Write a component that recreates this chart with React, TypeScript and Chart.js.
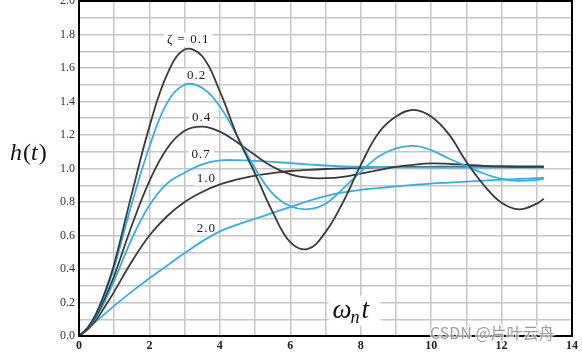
import React, { useEffect, useRef } from 'react';
import { Chart, registerables } from 'chart.js';

Chart.register(...registerables);

// time axis (ωn·t)
const T = [0, 0.25, 0.5, 0.75, 1, 1.5, 2, 2.5, 3, 3.5, 4, 4.5, 5, 5.5, 6, 6.5, 7, 7.5, 8, 8.5, 9, 9.5, 10, 10.5, 11, 11.5, 12, 12.5, 13, 13.2];

// step responses
const Z01 = [0, 0.05, 0.14, 0.27, 0.43, 0.85, 1.25, 1.56, 1.71, 1.67, 1.46, 1.19, 0.97, 0.74, 0.56, 0.52, 0.62, 0.80, 1.02, 1.21, 1.31, 1.35, 1.31, 1.205, 1.04, 0.90, 0.795, 0.756, 0.79, 0.82];
const Z02 = [0, 0.05, 0.135, 0.26, 0.41, 0.79, 1.13, 1.39, 1.50, 1.48, 1.37, 1.19, 1.0, 0.85, 0.775, 0.757, 0.79, 0.88, 0.98, 1.07, 1.12, 1.135, 1.11, 1.06, 1.015, 0.97, 0.938, 0.926, 0.932, 0.94];
const Z04 = [0, 0.045, 0.125, 0.235, 0.36, 0.66, 0.925, 1.12, 1.225, 1.25, 1.22, 1.155, 1.08, 1.01, 0.965, 0.945, 0.942, 0.95, 0.97, 0.99, 1.01, 1.022, 1.03, 1.028, 1.022, 1.016, 1.012, 1.01, 1.01, 1.01];
const Z07 = [0, 0.045, 0.115, 0.215, 0.33, 0.58, 0.78, 0.91, 0.975, 1.025, 1.048, 1.05, 1.046, 1.04, 1.032, 1.025, 1.018, 1.013, 1.01, 1.008, 1.007, 1.007, 1.006, 1.006, 1.006, 1.006, 1.006, 1.005, 1.005, 1.005];
const Z10 = [0, 0.04, 0.10, 0.18, 0.265, 0.445, 0.60, 0.715, 0.80, 0.86, 0.905, 0.935, 0.958, 0.973, 0.985, 0.992, 0.997, 1.0, 1.004, 1.007, 1.009, 1.01, 1.01, 1.011, 1.011, 1.012, 1.012, 1.012, 1.012, 1.012];
const Z20 = [0, 0.045, 0.09, 0.135, 0.18, 0.265, 0.345, 0.42, 0.495, 0.565, 0.625, 0.665, 0.70, 0.735, 0.77, 0.805, 0.835, 0.857, 0.873, 0.883, 0.893, 0.902, 0.91, 0.916, 0.922, 0.928, 0.933, 0.938, 0.942, 0.944];

const SERIES = [Z01, Z02, Z04, Z07, Z10, Z20];
const SERIES_COLORS = ['#3a3a3a', '#33aee6', '#3a3a3a', '#33aee6', '#3a3a3a', '#33aee6'];

// curve annotations (text + data-coordinate anchor)
const CURVE_LABELS = ['ζ = 0.1', '0.2', '0.4', '0.7', '1.0', '2.0'];
const CURVE_LABEL_X = [3.1, 3.34, 3.48, 3.47, 3.62, 3.62];
const CURVE_LABEL_Y = [1.77, 1.555, 1.305, 1.084, 0.94, 0.642];

// axis ticks
const X_MIN = 0, X_MAX = 14, X_STEP = 1, X_LABEL_EVERY = 2;
const Y_MIN = 0, Y_MAX = 2, Y_STEP = 0.1, Y_LABEL_EVERY = 0.2;

const WATERMARK = 'CSDN @片叶云舟';

const SERIF = '"Liberation Serif", "DejaVu Serif", serif';

const annotPlugin = {
  id: 'annot',
  beforeDatasetsDraw(chart: any) {
    const { ctx, scales } = chart;
    const x = scales.x, y = scales.y;
    ctx.save();
    ctx.font = `13px ${SERIF}`;
    (ctx as any).letterSpacing = '1px';
    ctx.textAlign = 'center';
    ctx.textBaseline = 'middle';
    CURVE_LABELS.forEach((s, i) => {
      const px = x.getPixelForValue(CURVE_LABEL_X[i]);
      const py = y.getPixelForValue(CURVE_LABEL_Y[i]);
      const w = ctx.measureText(s).width;
      ctx.fillStyle = '#ffffff';
      ctx.fillRect(px - w / 2 - 3, py - 7, w + 6, 14);
      ctx.fillStyle = '#1a1a1a';
      ctx.fillText(s, px, py);
    });
    (ctx as any).letterSpacing = '0px';
    // ωn t label with white box
    const ox = x.getPixelForValue(7.2);
    const oy = y.getPixelForValue(0.11);
    ctx.fillStyle = '#ffffff';
    ctx.fillRect(ox - 4, oy - 22, 52, 30);
    ctx.fillStyle = '#111111';
    ctx.textAlign = 'left';
    ctx.textBaseline = 'alphabetic';
    ctx.font = `italic 27px ${SERIF}`;
    ctx.fillText('ω', ox, oy);
    const w1 = ctx.measureText('ω').width;
    ctx.font = `italic 18px ${SERIF}`;
    ctx.fillText('n', ox + w1 - 1, oy + 5);
    const w2 = ctx.measureText('n').width;
    ctx.font = `italic 27px ${SERIF}`;
    ctx.fillText('t', ox + w1 + w2 + 1, oy);
    ctx.restore();
  },
  afterDraw(chart: any) {
    const { ctx, chartArea: ca, scales } = chart;
    const y = scales.y;
    ctx.save();
    ctx.strokeStyle = '#000';
    ctx.lineWidth = 2;
    ctx.strokeRect(ca.left, ca.top, ca.right - ca.left, ca.bottom - ca.top);

    // h(t) axis title
    const hy = y.getPixelForValue(1.0) - 9;
    ctx.fillStyle = '#111111';
    ctx.textBaseline = 'alphabetic';
    ctx.textAlign = 'left';
    let cx = 10;
    const parts: [string, boolean][] = [['h', true], ['(', false], ['t', true], [')', false]];
    parts.forEach(([s, it]) => {
      ctx.font = `${it ? 'italic ' : ''}24px ${SERIF}`;
      ctx.fillText(s, cx, hy);
      cx += ctx.measureText(s).width + (it ? 1 : 0);
    });

    // watermark
    ctx.font = '16px "Noto Sans CJK SC", "Noto Sans", sans-serif';
    ctx.textBaseline = 'middle';
    ctx.textAlign = 'left';
    ctx.lineWidth = 3;
    ctx.strokeStyle = 'rgba(255,255,255,0.7)';
    ctx.strokeText(WATERMARK, 430, 333);
    ctx.fillStyle = 'rgba(140,140,140,0.85)';
    ctx.fillText(WATERMARK, 430, 333);
    ctx.restore();
  },
};

export default function App() {
  const ref = useRef<HTMLCanvasElement>(null);
  useEffect(() => {
    document.body.style.margin = '0';
    const canvas = ref.current;
    if (!canvas) return;
    const chart = new Chart(canvas, {
      type: 'line',
      data: {
        datasets: SERIES.map((arr, i) => ({
          label: CURVE_LABELS[i],
          data: T.map((t, k) => ({ x: t, y: arr[k] })),
          borderColor: SERIES_COLORS[i],
          backgroundColor: SERIES_COLORS[i],
          borderWidth: 1.8,
          pointRadius: 0,
          tension: 0.4,
          fill: false,
        })),
      },
      options: {
        animation: false,
        responsive: false,
        devicePixelRatio: 1,
        layout: { padding: { left: 0, right: 10, top: 1, bottom: 0 } },
        plugins: {
          legend: { display: false },
          tooltip: { enabled: false },
        },
        scales: {
          x: {
            type: 'linear',
            min: X_MIN,
            max: X_MAX,
            border: { display: true, color: '#000', width: 2 },
            grid: { color: '#c6c6c6', lineWidth: 1.5, drawTicks: false },
            ticks: {
              stepSize: X_STEP,
              autoSkip: false,
              maxRotation: 0,
              padding: 3,
              color: '#222',
              font: { family: SERIF, size: 12, weight: 'bold' },
              callback: (v: any) => (Math.round(v) % X_LABEL_EVERY === 0 ? String(Math.round(v)) : ''),
            },
            afterFit: (s: any) => {
              s.height = 19;
              s.paddingLeft = 0;
              s.paddingRight = 0;
            },
          },
          y: {
            type: 'linear',
            min: Y_MIN,
            max: Y_MAX,
            border: { display: true, color: '#000', width: 2 },
            grid: { color: '#c6c6c6', lineWidth: 1.5, drawTicks: false },
            ticks: {
              stepSize: Y_STEP,
              autoSkip: false,
              padding: 4,
              color: '#333',
              font: { family: SERIF, size: 12 },
              callback: (v: any) => {
                const n = Math.round(v * 10);
                return n % Math.round(Y_LABEL_EVERY * 10) === 0 ? (n / 10).toFixed(1) : '';
              },
            },
            afterFit: (s: any) => {
              s.width = 79;
              s.paddingTop = 0;
              s.paddingBottom = 0;
            },
          },
        },
      },
      plugins: [annotPlugin],
    } as any);
    return () => chart.destroy();
  }, []);
  return (
    <div style={{ width: 582, height: 355, position: 'relative' }}>
      <canvas ref={ref} width={582} height={355} style={{ display: 'block' }} />
    </div>
  );
}
